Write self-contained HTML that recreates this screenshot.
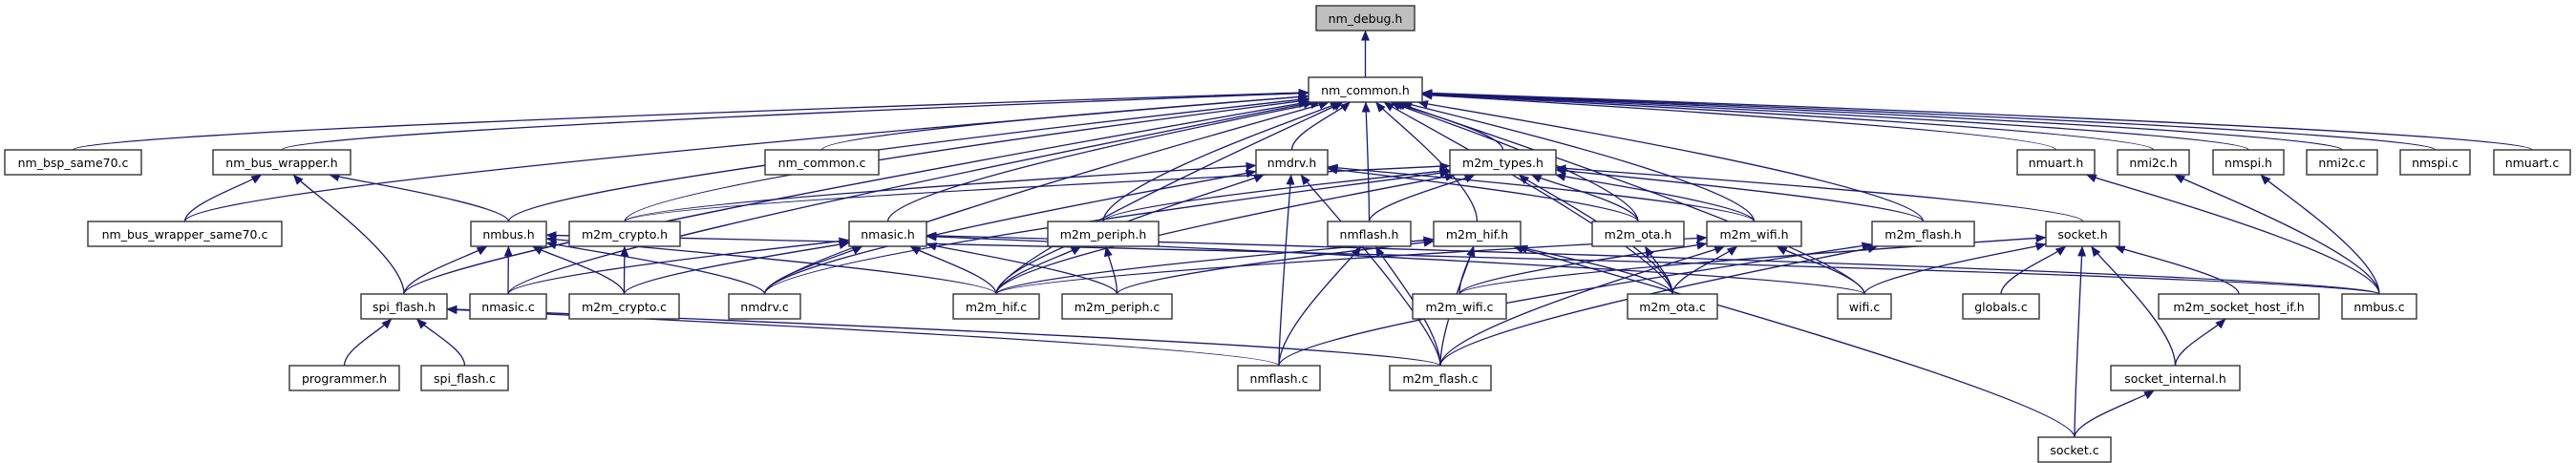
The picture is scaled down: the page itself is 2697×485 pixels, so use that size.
<!DOCTYPE html>
<html><head><meta charset="utf-8">
<style>
html,body{margin:0;padding:0;background:#fff;}
svg{display:block;}
text{font-family:"DejaVu Sans","Liberation Sans",sans-serif;font-size:12.5px;fill:#000;}
</style></head>
<body>
<svg id="g" width="2697" height="485" viewBox="0 0 2697 485" xmlns="http://www.w3.org/2000/svg">
<defs>
<marker id="a" markerWidth="11" markerHeight="9" refX="10.5" refY="4.5" orient="auto" markerUnits="userSpaceOnUse">
<path d="M0,0 L11,4.5 L0,9 Z" fill="#191970"/>
</marker>
</defs>
<g id="edges"></g>
<g id="nodes"></g>
</svg>
<script>
var R={1:6,2:81,3:157,4:232,5:308,6:383,7:458};
var H=26;
var N={
"nm_debug.h":[1378,1481,1],
"nm_common.h":[1370,1489,2],
"nm_bsp_same70.c":[5,148,3],
"nm_bus_wrapper.h":[223,367,3],
"nm_common.c":[801,920,3],
"nmdrv.h":[1315,1390,3],
"m2m_types.h":[1518,1629,3],
"nmuart.h":[2112,2193,3],
"nmi2c.h":[2217,2292,3],
"nmspi.h":[2317,2391,3],
"nmi2c.c":[2415,2489,3],
"nmspi.c":[2513,2586,3],
"nmuart.c":[2611,2691,3],
"nm_bus_wrapper_same70.c":[92,295,4],
"nmbus.h":[493,572,4],
"m2m_crypto.h":[596,712,4],
"nmasic.h":[889,970,4],
"m2m_periph.h":[1097,1213,4],
"nmflash.h":[1390,1477,4],
"m2m_hif.h":[1501,1592,4],
"m2m_ota.h":[1667,1763,4],
"m2m_wifi.h":[1787,1886,4],
"m2m_flash.h":[1960,2067,4],
"socket.h":[2142,2219,4],
"spi_flash.h":[378,468,5],
"nmasic.c":[492,572,5],
"m2m_crypto.c":[596,711,5],
"nmdrv.c":[763,838,5],
"m2m_hif.c":[998,1088,5],
"m2m_periph.c":[1112,1227,5],
"m2m_wifi.c":[1479,1577,5],
"m2m_ota.c":[1704,1798,5],
"wifi.c":[1924,1980,5],
"globals.c":[2055,2135,5],
"m2m_socket_host_if.h":[2260,2428,5],
"nmbus.c":[2452,2530,5],
"programmer.h":[303,418,6],
"spi_flash.c":[441,532,6],
"nmflash.c":[1296,1382,6],
"m2m_flash.c":[1455,1561,6],
"socket_internal.h":[2210,2345,6],
"socket.c":[2134,2210,7]
};
var E={
"nm_debug.h":["nm_common.h"],
"nm_common.h":["nm_bsp_same70.c","nm_bus_wrapper.h","nm_bus_wrapper_same70.c","spi_flash.h","nmasic.c","nmbus.h","m2m_crypto.h","nmdrv.c","nm_common.c","nmasic.h","m2m_hif.c","m2m_periph.h","nmdrv.h","nmflash.h","m2m_hif.h","m2m_types.h","m2m_ota.h","m2m_wifi.h","m2m_ota.c","m2m_flash.h","wifi.c","nmuart.h","nmi2c.h","nmspi.h","nmi2c.c","nmspi.c","nmuart.c"],
"nm_bus_wrapper.h":["nm_bus_wrapper_same70.c","spi_flash.h","nmbus.h"],
"nmbus.h":["spi_flash.h","nmasic.c","m2m_crypto.c","nmdrv.c","m2m_hif.c","nmbus.c"],
"m2m_crypto.h":["m2m_crypto.c"],
"spi_flash.h":["programmer.h","spi_flash.c","nmflash.c","m2m_flash.c"],
"nmasic.h":["m2m_crypto.c","nmasic.c","nmdrv.c","m2m_hif.c","m2m_periph.c","nmbus.c","wifi.c"],
"m2m_periph.h":["m2m_hif.c","m2m_periph.c"],
"nmdrv.h":["nmdrv.c","m2m_hif.c","nmflash.c","m2m_flash.c","m2m_ota.h","m2m_wifi.h","m2m_crypto.h"],
"m2m_types.h":["m2m_crypto.h","nmdrv.c","m2m_hif.c","m2m_periph.h","nmflash.h","m2m_ota.h","m2m_wifi.h","m2m_flash.h","m2m_ota.c","socket.h"],
"nmflash.h":["nmflash.c","m2m_flash.c"],
"m2m_hif.h":["m2m_hif.c","m2m_periph.c","m2m_wifi.c","m2m_flash.c","m2m_ota.c","socket.c"],
"m2m_ota.h":["m2m_ota.c"],
"m2m_wifi.h":["m2m_wifi.c","m2m_ota.c","m2m_flash.c","wifi.c","m2m_hif.c"],
"m2m_flash.h":["nmflash.c","m2m_flash.c"],
"socket.h":["globals.c","m2m_socket_host_if.h","socket.c","socket_internal.h","wifi.c","m2m_wifi.c"],
"m2m_socket_host_if.h":["socket_internal.h"],
"socket_internal.h":["socket.c"],
"nmuart.h":["nmbus.c"],
"nmi2c.h":["nmbus.c"],
"nmspi.h":["nmbus.c"]
};
var NS="http://www.w3.org/2000/svg";
var eg=document.getElementById("edges"),ng=document.getElementById("nodes");
function box(n){var v=N[n];return {x0:v[0],x1:v[1],y0:R[v[2]],y1:R[v[2]]+H,cx:(v[0]+v[1])/2,cy:R[v[2]]+H/2};}
function clip(b,sx,sy){
  var dx=sx-b.cx,dy=sy-b.cy,t=1e9;
  if(dx!==0){var tx=((dx>0?b.x1:b.x0)-b.cx)/dx; if(tx>0)t=Math.min(t,tx);}
  if(dy!==0){var ty=((dy>0?b.y1:b.y0)-b.cy)/dy; if(ty>0)t=Math.min(t,ty);}
  return [b.cx+dx*t,b.cy+dy*t];
}
for(var p in E){E[p].forEach(function(c){
  var pb=box(p),cb=box(c);
  var sx=cb.cx,sy=cb.y0;
  var e=clip(pb,sx,sy);
  var dx=e[0]-sx,dy=e[1]-sy,len=Math.sqrt(dx*dx+dy*dy);
  var k=Math.min(40,Math.abs(dy)*0.35);
  var c1x=sx,c1y=sy-k;
  var c2x=e[0]-dx/len*20,c2y=e[1]-dy/len*20;
  var l=document.createElementNS(NS,"path");
  l.setAttribute("d","M"+sx+","+sy+" C"+c1x+","+c1y.toFixed(1)+" "+c2x.toFixed(1)+","+c2y.toFixed(1)+" "+e[0].toFixed(1)+","+e[1].toFixed(1));
  l.setAttribute("stroke","#191970");l.setAttribute("stroke-width","1.3");l.setAttribute("fill","none");
  l.setAttribute("marker-end","url(#a)");
  eg.appendChild(l);
});}
for(var n in N){
  var b=box(n);
  var r=document.createElementNS(NS,"rect");
  r.setAttribute("x",b.x0);r.setAttribute("y",b.y0);r.setAttribute("width",b.x1-b.x0);r.setAttribute("height",H);
  r.setAttribute("fill",n=="nm_debug.h"?"#bfbfbf":"#fff");r.setAttribute("stroke","#333");r.setAttribute("stroke-width","1.4");
  ng.appendChild(r);
  var t=document.createElementNS(NS,"text");
  t.setAttribute("x",b.cx);t.setAttribute("y",b.y0+18);t.setAttribute("text-anchor","middle");
  t.textContent=n;ng.appendChild(t);
}
</script>
</body></html>
